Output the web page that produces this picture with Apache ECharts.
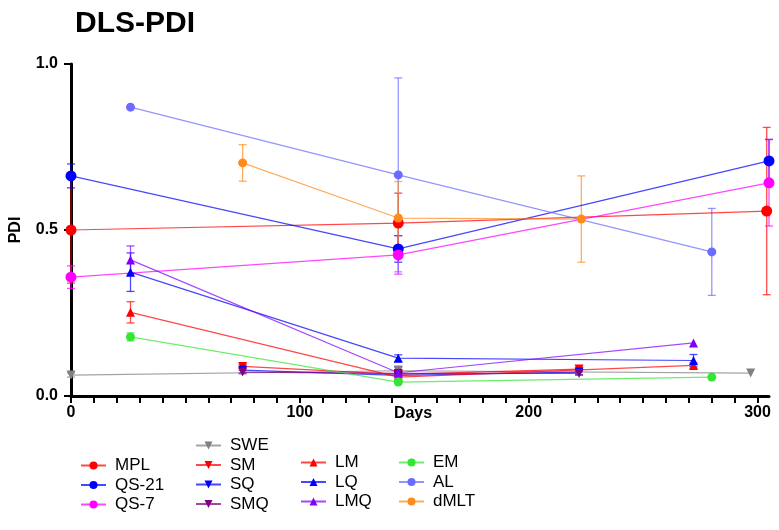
<!DOCTYPE html>
<html>
<head>
<meta charset="utf-8">
<script src="https://cdn.jsdelivr.net/npm/echarts@6/dist/echarts.min.js"></script>
<style>
  html, body { margin: 0; padding: 0; background: #fff; }
  #chart { width: 779px; height: 530px; }
</style>
</head>
<body>
<div id="chart"></div>
<script>
// Each formulation: [day, mean PDI, error (±)]
const MPL   = [[0, 0.50, 0.16], [143, 0.521, 0.09], [304, 0.557, 0.252]];
const QS21  = [[0, 0.663, 0.036], [143, 0.443, 0.04], [305, 0.708, 0.065]];
const QS7   = [[0, 0.358, 0.034], [143, 0.425, 0.058], [305, 0.642, 0.13]];
const SWE   = [[0, 0.063, 0.006], [143, 0.076, 0.01], [297, 0.069, 0]];
const SM    = [[75, 0.089, 0.006], [143, 0.065, 0.006], [222, 0.081, 0.006]];
const SQ    = [[75, 0.078, 0.008], [143, 0.062, 0.006], [222, 0.072, 0.008]];
const SMQ   = [[75, 0.072, 0.005], [143, 0.068, 0.006], [222, 0.068, 0.005]];
const LM    = [[26, 0.252, 0.032], [143, 0.057, 0.006], [272, 0.092, 0.008]];
const LQ    = [[26, 0.373, 0.058], [143, 0.114, 0.01], [272, 0.107, 0.018]];
const LMQ   = [[26, 0.41, 0.042], [143, 0.070, 0.02], [272, 0.16, 0]];
const EM    = [[26, 0.178, 0.012], [143, 0.042, 0.005], [280, 0.057, 0]];
const AL    = [[26, 0.870, 0], [143, 0.666, 0.292], [280, 0.434, 0.131]];
const dMLT  = [[75, 0.702, 0.055], [143, 0.536, 0.11], [223, 0.533, 0.13]];

const xTickLabels = [0, 100, 200, 300];
const yTickLabels = [0.0, 0.5, 1.0];

const seriesDefs = [
  { name: 'MPL',   data: MPL,  color: '#FF0000', symbol: 'circle',   size: 11 },
  { name: 'QS-21', data: QS21, color: '#0000FF', symbol: 'circle',   size: 11 },
  { name: 'QS-7',  data: QS7,  color: '#FF00FF', symbol: 'circle',   size: 11 },
  { name: 'SWE',   data: SWE,  color: '#808080', symbol: 'triangle', size: 9, rotate: 180 },
  { name: 'SM',    data: SM,   color: '#FF0000', symbol: 'triangle', size: 9, rotate: 180 },
  { name: 'SQ',    data: SQ,   color: '#0000FF', symbol: 'triangle', size: 9, rotate: 180 },
  { name: 'SMQ',   data: SMQ,  color: '#800080', symbol: 'triangle', size: 9, rotate: 180 },
  { name: 'LM',    data: LM,   color: '#FF0000', symbol: 'triangle', size: 9 },
  { name: 'LQ',    data: LQ,   color: '#0000FF', symbol: 'triangle', size: 9 },
  { name: 'LMQ',   data: LMQ,  color: '#8000FF', symbol: 'triangle', size: 9 },
  { name: 'EM',    data: EM,   color: '#33E633', symbol: 'circle',   size: 9 },
  { name: 'AL',    data: AL,   color: '#6B6BFF', symbol: 'circle',   size: 9 },
  { name: 'dMLT',  data: dMLT, color: '#FF8C1A', symbol: 'circle',   size: 9 }
];

// minor ticks every 10 days along the x axis
const xTicks = [];
for (let d = 0; d <= 300; d += 10) xTicks.push(d);

const FONT = 'Liberation Sans, Arial, sans-serif';

function errorBarRenderer(color) {
  return function (params, api) {
    const x = api.value(0), y = api.value(1), e = api.value(2);
    if (!e) return null;
    const top = api.coord([x, y + e]);
    const bot = api.coord([x, y - e]);
    const hw = 4;
    const style = { stroke: color, lineWidth: 1.3, opacity: 0.7 };
    return {
      type: 'group',
      children: [
        { type: 'line', shape: { x1: top[0], y1: top[1], x2: bot[0], y2: bot[1] }, style },
        { type: 'line', shape: { x1: top[0] - hw, y1: top[1], x2: top[0] + hw, y2: top[1] }, style },
        { type: 'line', shape: { x1: bot[0] - hw, y1: bot[1], x2: bot[0] + hw, y2: bot[1] }, style }
      ]
    };
  };
}

const series = [];
seriesDefs.forEach(function (s) {
  series.push({
    name: s.name,
    type: 'line',
    data: s.data.map(function (p) { return [p[0], p[1]]; }),
    symbol: s.symbol,
    symbolSize: s.size,
    symbolRotate: s.rotate || 0,
    color: s.color,
    itemStyle: { color: s.color, opacity: 1 },
    lineStyle: { color: s.color, width: 1.2, opacity: 0.72 },
    z: 3
  });
});
seriesDefs.forEach(function (s) {
  series.push({
    type: 'custom',
    name: s.name + ' error',
    data: s.data,
    renderItem: errorBarRenderer(s.color),
    encode: { x: 0, y: 1 },
    z: 2,
    silent: true
  });
});

function legendColumn(names, left, top) {
  return {
    data: names,
    orient: 'vertical',
    left: left,
    top: top,
    itemWidth: 25,
    itemHeight: 10,
    itemGap: 2.5,
    textStyle: { fontFamily: FONT, fontSize: 17, color: '#000', padding: [0, 0, 0, 4], lineHeight: 17 }
  };
}

const chart = echarts.init(document.getElementById('chart'), null, { renderer: 'canvas' });
chart.setOption({
  animation: false,
  backgroundColor: '#fff',
  title: {
    text: 'DLS-PDI',
    left: 70,
    top: 4,
    textStyle: { fontFamily: FONT, fontSize: 30, fontWeight: 'bold', color: '#000' }
  },
  legend: [
    legendColumn(['MPL', 'QS-21', 'QS-7'], 75, 452),
    legendColumn(['SWE', 'SM', 'SQ', 'SMQ'], 190, 432),
    legendColumn(['LM', 'LQ', 'LMQ'], 295, 449),
    legendColumn(['EM', 'AL', 'dMLT'], 393, 449)
  ],
  grid: { left: 69, right: 10, top: 64, bottom: 134, containLabel: false },
  xAxis: {
    type: 'value',
    min: 0,
    max: 305,
    name: 'Days',
    nameLocation: 'middle',
    nameGap: 10,
    nameMoveOverlap: false,
    nameTextStyle: { fontFamily: FONT, fontSize: 16, fontWeight: 'bold', color: '#000', padding: [0, 14, 0, 0] },
    axisLine: { show: true, onZero: false, lineStyle: { color: '#000', width: 3 } },
    axisTick: { show: true, length: 7, lineStyle: { color: '#000', width: 2 }, customValues: xTicks },
    axisLabel: {
      fontFamily: FONT, fontSize: 16, fontWeight: 'bold', color: '#000', margin: 9,
      customValues: xTickLabels
    },
    splitLine: { show: false }
  },
  yAxis: {
    type: 'value',
    min: 0,
    max: 1,
    interval: 0.5,
    name: 'PDI',
    nameLocation: 'middle',
    nameGap: 47,
    nameRotate: 90,
    nameMoveOverlap: false,
    nameTextStyle: { fontFamily: FONT, fontSize: 16, fontWeight: 'bold', color: '#000' },
    axisLine: { show: true, lineStyle: { color: '#000', width: 3 } },
    axisTick: { show: true, length: 7, lineStyle: { color: '#000', width: 2 }, customValues: yTickLabels },
    axisLabel: {
      fontFamily: FONT, fontSize: 16, fontWeight: 'bold', color: '#000', margin: 13,
      customValues: yTickLabels,
      formatter: function (v) { return v.toFixed(1); }
    },
    splitLine: { show: false }
  },
  series: series
});
</script>
</body>
</html>
